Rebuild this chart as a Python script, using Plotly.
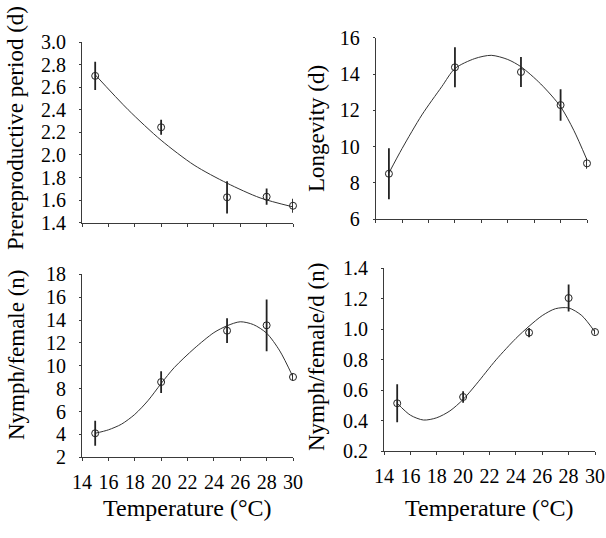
import plotly.graph_objects as go

# ---------------- data ----------------
temps = [15, 20, 25, 28, 30]

prerep_mean = [2.70, 2.245, 1.625, 1.63, 1.55]
prerep_se = [0.125, 0.067, 0.143, 0.072, 0.063]
prerep_fit_x = [15, 17.5, 20, 22.5, 25, 27.5, 30]
prerep_fit_y = [2.71, 2.40, 2.13, 1.91, 1.75, 1.62, 1.54]

longev_mean = [8.51, 14.37, 14.11, 12.29, 9.08]
longev_se = [1.40, 1.10, 0.83, 0.87, 0.30]
longev_fit_x = [15, 16, 17.5, 19, 20, 21.5, 22.75, 24, 25, 26.5, 28, 29, 30]
longev_fit_y = [8.55, 9.9, 11.75, 13.3, 14.3, 14.85, 15.03, 14.8, 14.4, 13.45, 12.2, 10.9, 9.27]

nymph_mean = [4.10, 8.58, 13.07, 13.54, 9.02]
nymph_se = [1.09, 0.95, 1.08, 2.26, 0.31]
nymph_fit_x = [15, 16, 17, 18, 19, 20, 21, 22.5, 24, 25, 26, 27, 28, 29, 30]
nymph_fit_y = [4.10, 4.40, 4.90, 5.75, 6.95, 8.45, 9.85, 11.5, 12.9, 13.5, 13.85, 13.6, 12.85, 11.3, 9.02]

nymphd_mean = [0.515, 0.556, 0.978, 1.205, 0.982]
nymphd_se = [0.125, 0.038, 0.030, 0.088, 0.016]
nymphd_fit_x = [15, 16, 17, 18, 19, 20, 21, 22.5, 24, 25, 26, 27, 28, 29, 30]
nymphd_fit_y = [0.515, 0.437, 0.405, 0.42, 0.465, 0.54, 0.64, 0.80, 0.94, 1.02, 1.09, 1.135, 1.14, 1.09, 0.982]

x_ticks = [14, 16, 18, 20, 22, 24, 26, 28, 30]

y_titles = ["Prereproductive period (d)", "Longevity (d)",
            "Nymph/female (n)", "Nymph/female/d (n)"]
x_title = "Temperature (°C)"

panels = [
    (prerep_mean, prerep_se, prerep_fit_x, prerep_fit_y, [1.4, 3.0], 0.2, True),
    (longev_mean, longev_se, longev_fit_x, longev_fit_y, [6, 16], 2, False),
    (nymph_mean, nymph_se, nymph_fit_x, nymph_fit_y, [2, 18], 2, False),
    (nymphd_mean, nymphd_se, nymphd_fit_x, nymphd_fit_y, [0.2, 1.4], 0.2, True),
]

W, H = 606, 538
# axis boxes in pixels: (left, right, top, bottom)
boxes = [(82, 293, 42, 222.7), (375.7, 587, 37.7, 219.3),
         (82, 293, 274.3, 457.3), (384, 595, 268.3, 451.3)]

FONT = "Liberation Serif"
AX = "#3a3a3a"

fig = go.Figure()
for i, (mean, se, fx, fy, yr, dt, onedec) in enumerate(panels):
    n = "" if i == 0 else str(i + 1)
    xa, ya = "x" + n, "y" + n
    fig.add_trace(go.Scatter(x=fx, y=fy, mode="lines", xaxis=xa, yaxis=ya,
                             line=dict(color="#333333", width=1, shape="spline", smoothing=0.8),
                             hoverinfo="skip", showlegend=False, cliponaxis=False))
    fig.add_trace(go.Scatter(x=temps, y=mean, mode="markers", xaxis=xa, yaxis=ya,
                             marker=dict(symbol="circle-open", size=7, color="#222222",
                                         line=dict(width=1, color="#222222")),
                             error_y=dict(type="data", array=se, visible=True,
                                          color="#222222", thickness=1.8, width=0),
                             showlegend=False, cliponaxis=False))
    l, r, t, b = boxes[i]
    xdom = [l / W, r / W]
    ydom = [1 - b / H, 1 - t / H]
    xkw = dict(domain=xdom, range=[14, 30], tickvals=x_ticks,
               showticklabels=(i >= 2), showline=True, linecolor=AX, linewidth=1,
               ticks="outside", ticklen=3, tickcolor=AX, showgrid=False, zeroline=False,
               tickfont=dict(family=FONT, size=20, color="black"),
               ticklabelstandoff=4, anchor=ya, automargin=False)
    ykw = dict(domain=ydom, range=yr, dtick=dt, tick0=yr[0], showline=True,
               linecolor=AX, linewidth=1, ticks="outside", ticklen=2, tickcolor=AX,
               showgrid=False, zeroline=False,
               tickfont=dict(family=FONT, size=20, color="black"),
               ticklabelstandoff=9, anchor=xa, automargin=False)
    if onedec:
        ykw["tickformat"] = ".1f"
    fig.update_layout(**{"xaxis" + n: xkw, "yaxis" + n: ykw})

# axis titles as annotations
ytitle_pos = [(15, 128), (316, 129), (16, 355), (316, 357)]
ann = []
for (px, py), txt in zip(ytitle_pos, y_titles):
    ann.append(dict(text=txt, x=px / W, y=1 - py / H, xref="paper", yref="paper",
                    xanchor="center", yanchor="middle", textangle=-90, showarrow=False,
                    font=dict(family=FONT, size=23, color="black")))
for px in [187.5, 489.5]:
    ann.append(dict(text=x_title, x=px / W, y=1 - 508 / H, xref="paper", yref="paper",
                    xanchor="center", yanchor="middle", showarrow=False,
                    font=dict(family=FONT, size=24, color="black")))

fig.update_layout(width=W, height=H,
                  margin=dict(l=0, r=0, t=0, b=0, pad=0, autoexpand=False),
                  paper_bgcolor="white", plot_bgcolor="white", annotations=ann,
                  font=dict(family=FONT))

fig.write_html("out.html", config={"displayModeBar": False},
               post_script="document.body.style.margin='0px';")
